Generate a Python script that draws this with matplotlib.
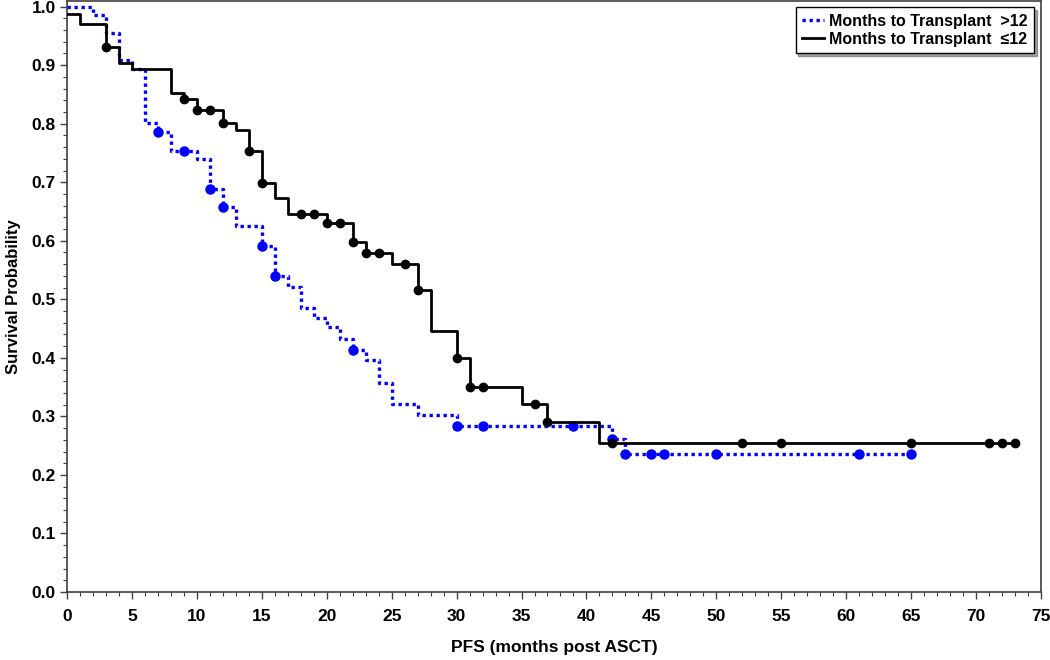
import numpy as np
import matplotlib
matplotlib.use('Agg')
import matplotlib.pyplot as plt
from matplotlib.lines import Line2D
from matplotlib.ticker import MultipleLocator

plt.rcParams['font.family'] = ['Liberation Sans', 'DejaVu Sans']
plt.rcParams['font.weight'] = 'bold'

# Months to Transplant >12 (blue, dotted)
gt12_times = [0, 2, 3, 4, 5, 6, 7, 8, 10, 11, 12, 13, 15, 16, 17, 18, 19, 20, 21, 22,
              23, 24, 25, 27, 30, 42, 43]
gt12_surv = [1.0, 0.986, 0.955, 0.909, 0.894, 0.801, 0.786, 0.753, 0.739, 0.689, 0.657,
             0.625, 0.591, 0.539, 0.521, 0.485, 0.468, 0.452, 0.432, 0.413, 0.396, 0.357,
             0.321, 0.302, 0.283, 0.262, 0.235]
gt12_end = 65
gt12_censor = [7, 9, 11, 12, 15, 16, 22, 30, 32, 39, 42, 43, 45, 46, 50, 61, 65]

# Months to Transplant <=12 (black, solid)
le12_times = [0, 1, 3, 4, 5, 8, 9, 10, 12, 13, 14, 15, 16, 17, 20, 22, 23, 25, 27, 28,
              30, 31, 35, 37, 41]
le12_surv = [0.988, 0.971, 0.931, 0.904, 0.894, 0.853, 0.842, 0.823, 0.801, 0.789, 0.753,
             0.698, 0.673, 0.645, 0.630, 0.598, 0.579, 0.561, 0.516, 0.446, 0.400, 0.350,
             0.321, 0.290, 0.255]
le12_end = 73
le12_censor = [3, 9, 10, 11, 12, 14, 15, 18, 19, 20, 21, 22, 23, 24, 26, 27, 30, 31, 32,
               36, 37, 42, 52, 55, 65, 71, 72, 73]

x_ticks = list(range(0, 80, 5))
y_ticks = [i / 10 for i in range(11)]


def step_value(times, surv, t):
    idx = np.searchsorted(times, t, side='right') - 1
    return np.asarray(surv)[idx]


fig = plt.figure(figsize=(10.5, 6.6), dpi=100)
ax = fig.add_axes([0.0638, 0.103, 0.9276, 0.895])

# blue group
bt = list(gt12_times) + [gt12_end]
bs = list(gt12_surv) + [gt12_surv[-1]]
ax.step(bt, bs, where='post', color='#0000FF', linewidth=2.4,
        linestyle=(0, (1.0, 1.1)), zorder=2)
ax.plot(gt12_censor, step_value(gt12_times, gt12_surv, gt12_censor), 'o',
        color='#0000FF', markersize=6.5, zorder=3)

# black group
kt = list(le12_times) + [le12_end]
ks = list(le12_surv) + [le12_surv[-1]]
ax.step(kt, ks, where='post', color='black', linewidth=2.0, zorder=4)
ax.plot(le12_censor, step_value(le12_times, le12_surv, le12_censor), 'o',
        color='black', markersize=6, zorder=5)

ax.set_xlim(0, 75)
ax.set_ylim(0, 1.009)
ax.set_xticks(x_ticks)
ax.set_yticks(y_ticks)
ax.set_yticklabels([f'{v:.1f}' for v in y_ticks])
ax.xaxis.set_minor_locator(MultipleLocator(1))
ax.yaxis.set_minor_locator(MultipleLocator(0.02))
ax.tick_params(axis='both', which='major', direction='out', length=5, width=1,
               labelsize=12.5, color='#404040')
ax.tick_params(axis='both', which='minor', direction='out', length=3, width=0.8,
               color='#404040')
ax.tick_params(axis='x', pad=7)
ax.tick_params(axis='y', pad=3)
for lab in ax.get_xticklabels() + ax.get_yticklabels():
    lab.set_fontweight('bold')

for sp in ax.spines.values():
    sp.set_color('#404040')
    sp.set_linewidth(1.2)

ax.set_xlabel('PFS (months post ASCT)', fontsize=12.5, fontweight='bold', labelpad=12)
ax.set_ylabel('Survival Probability', fontsize=12, fontweight='bold', labelpad=8)

handles = [
    Line2D([0], [0], color='#0000FF', linewidth=2.4, linestyle=(0, (1.0, 1.1))),
    Line2D([0], [0], color='black', linewidth=2.0),
]
leg = ax.legend(handles, ['Months to Transplant  >12', 'Months to Transplant  \u226412'],
                loc='upper right', bbox_to_anchor=(0.993, 0.990), borderaxespad=0,
                fancybox=False, shadow=True, frameon=True, handlelength=1.4,
                handletextpad=0.3, borderpad=0.4, labelspacing=0.2,
                prop={'weight': 'bold', 'size': 11.5})
leg.get_frame().set_edgecolor('black')
leg.get_frame().set_linewidth(1.0)

fig.savefig('out.png', dpi=100)
